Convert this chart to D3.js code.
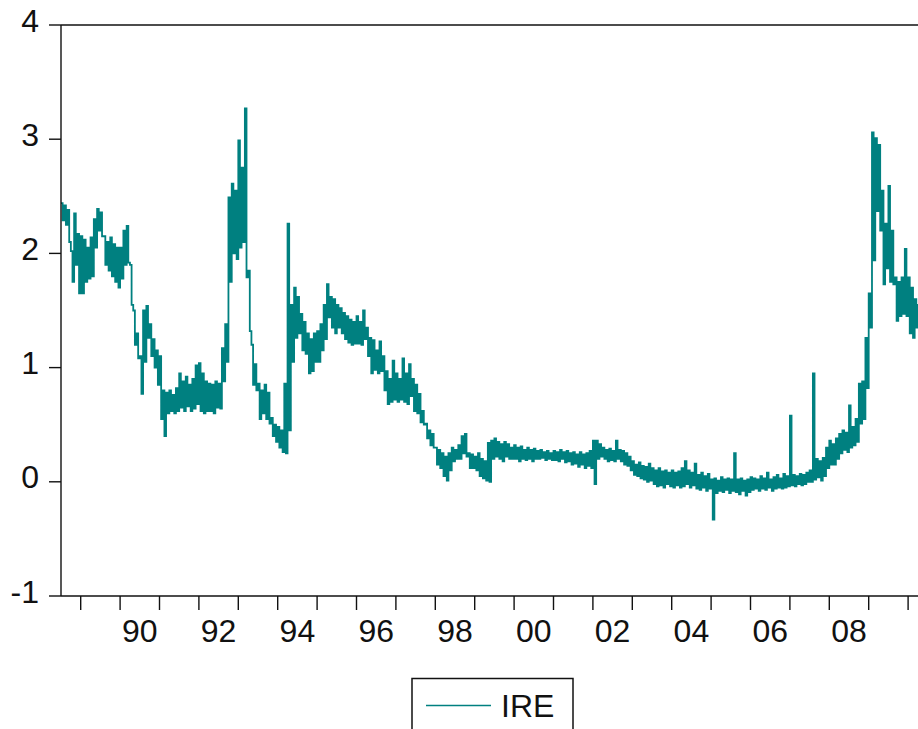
<!DOCTYPE html>
<html>
<head>
<meta charset="utf-8">
<script src="https://cdn.jsdelivr.net/npm/d3@7"></script>
<style>
  body { margin: 0; background: #fff; }
  svg { display: block; }
  text { font-family: "Liberation Sans", Arial, sans-serif; fill: #111; }
</style>
</head>
<body>
<svg id="chart"></svg>
<script>
var width = 918, height = 729;

// series IRE, two readings per month starting mid 1988
var seriesName = "IRE";
var startYear = 1988.5;
var perYear = 24;
var ire = [
  // 1988 H2
  2.44, 2.29, 2.42, 2.25, 2.38, 2.10, 2.02, 1.75, 2.35, 1.90, 2.17, 1.65,
  // 1989
  2.15, 1.65, 2.12, 1.75, 2.05, 1.78, 2.14, 1.80, 2.30, 2.05, 2.39, 2.20,
  2.36, 2.15, 2.15, 1.90, 2.10, 1.85, 2.14, 1.80, 2.08, 1.75, 2.05, 1.70,
  // 1990
  2.05, 1.78, 2.20, 1.90, 2.24, 1.92, 1.90, 1.55, 1.50, 1.20, 1.30, 1.08,
  1.10, 0.77, 1.50, 1.05, 1.54, 1.26, 1.38, 1.10, 1.25, 1.00, 1.15, 0.85,
  // 1991
  1.10, 0.55, 0.80, 0.40, 0.78, 0.60, 0.80, 0.62, 0.76, 0.60, 0.82, 0.62,
  0.95, 0.65, 0.88, 0.62, 0.92, 0.66, 0.85, 0.62, 0.90, 0.64, 1.02, 0.68,
  // 1992
  1.04, 0.62, 0.95, 0.60, 0.88, 0.62, 0.86, 0.62, 0.85, 0.60, 0.88, 0.65,
  0.86, 0.64, 1.17, 0.88, 1.38, 1.05, 2.49, 1.75, 2.61, 2.00, 2.55, 1.95,
  // 1993
  2.99, 2.05, 2.75, 2.10, 3.27, 1.79, 1.85, 1.32, 1.20, 0.85, 1.03, 0.80,
  0.86, 0.55, 0.80, 0.60, 0.85, 0.55, 0.78, 0.51, 0.56, 0.40, 0.50, 0.35,
  // 1994
  0.48, 0.30, 0.45, 0.26, 0.86, 0.25, 2.26, 0.45, 1.55, 1.05, 1.70, 1.26,
  1.62, 1.30, 1.47, 1.15, 1.40, 1.12, 1.30, 0.95, 1.25, 0.97, 1.30, 1.05,
  // 1995
  1.32, 1.05, 1.38, 1.15, 1.55, 1.25, 1.73, 1.44, 1.62, 1.35, 1.60, 1.30,
  1.55, 1.35, 1.52, 1.30, 1.48, 1.25, 1.45, 1.22, 1.42, 1.20, 1.40, 1.21,
  // 1996
  1.45, 1.21, 1.40, 1.20, 1.50, 1.25, 1.35, 1.10, 1.26, 0.95, 1.24, 0.98,
  1.15, 0.95, 1.23, 0.97, 1.10, 0.80, 0.97, 0.68, 0.90, 0.70, 1.06, 0.72,
  // 1997
  0.95, 0.70, 0.90, 0.72, 1.08, 0.70, 0.95, 0.68, 1.03, 0.75, 0.90, 0.62,
  0.85, 0.60, 0.77, 0.52, 0.62, 0.50, 0.51, 0.38, 0.45, 0.32, 0.42, 0.30,
  // 1998
  0.30, 0.15, 0.28, 0.12, 0.25, 0.05, 0.22, 0.01, 0.25, 0.10, 0.30, 0.18,
  0.28, 0.20, 0.32, 0.20, 0.40, 0.25, 0.42, 0.22, 0.25, 0.12, 0.24, 0.12,
  // 1999
  0.22, 0.10, 0.25, 0.05, 0.20, 0.03, 0.18, 0.01, 0.34, 0.00, 0.36, 0.20,
  0.38, 0.22, 0.35, 0.20, 0.33, 0.18, 0.35, 0.22, 0.33, 0.20, 0.30, 0.20,
  // 2000
  0.32, 0.20, 0.30, 0.18, 0.31, 0.20, 0.28, 0.19, 0.30, 0.20, 0.28, 0.18,
  0.29, 0.20, 0.27, 0.20, 0.28, 0.21, 0.26, 0.19, 0.27, 0.20, 0.25, 0.19,
  // 2001
  0.27, 0.19, 0.26, 0.18, 0.28, 0.20, 0.26, 0.17, 0.27, 0.18, 0.25, 0.15,
  0.26, 0.16, 0.24, 0.13, 0.26, 0.15, 0.24, 0.12, 0.25, 0.14, 0.27, 0.12,
  // 2002
  0.36, -0.02, 0.36, 0.20, 0.33, 0.22, 0.30, 0.20, 0.28, 0.18, 0.29, 0.19,
  0.27, 0.18, 0.36, 0.20, 0.28, 0.18, 0.27, 0.15, 0.25, 0.14, 0.22, 0.10,
  // 2003
  0.18, 0.06, 0.15, 0.05, 0.17, 0.03, 0.14, 0.02, 0.13, 0.00, 0.16, 0.01,
  0.12, -0.02, 0.10, -0.04, 0.12, -0.03, 0.09, -0.05, 0.10, -0.02, 0.08, -0.04,
  // 2004
  0.10, -0.05, 0.08, -0.03, 0.09, -0.05, 0.12, -0.04, 0.18, -0.02, 0.10, -0.05,
  0.08, -0.03, 0.16, -0.06, 0.06, -0.07, 0.08, -0.05, 0.05, -0.08, 0.07, -0.06,
  // 2005
  0.02, -0.33, 0.03, -0.10, 0.01, -0.08, 0.04, -0.09, 0.02, -0.07, 0.03, -0.10,
  0.02, -0.08, 0.25, -0.09, 0.02, -0.11, 0.03, -0.08, 0.01, -0.12, 0.02, -0.09,
  // 2006
  0.04, -0.07, 0.03, -0.06, 0.02, -0.08, 0.05, -0.06, 0.03, -0.07, 0.08, -0.05,
  0.02, -0.08, 0.04, -0.06, 0.06, -0.05, 0.03, -0.06, 0.07, -0.05, 0.05, -0.04,
  // 2007
  0.58, -0.03, 0.06, -0.04, 0.05, -0.02, 0.07, -0.03, 0.06, -0.02, 0.08, 0.00,
  0.10, 0.00, 0.95, 0.02, 0.20, 0.04, 0.18, 0.01, 0.21, 0.05, 0.30, 0.12,
  // 2008
  0.36, 0.15, 0.33, 0.15, 0.38, 0.20, 0.42, 0.25, 0.45, 0.28, 0.43, 0.26,
  0.67, 0.30, 0.48, 0.32, 0.55, 0.35, 0.86, 0.51, 0.88, 0.55, 1.26, 0.82,
  // 2009
  1.65, 1.35, 3.06, 1.94, 3.01, 2.37, 2.95, 2.20, 2.55, 1.73, 2.26, 1.87,
  2.59, 1.75, 2.20, 1.73, 1.79, 1.41, 1.75, 1.45, 1.79, 1.47, 2.04, 1.45,
  // 2010
  1.79, 1.30, 1.70, 1.26, 1.60, 1.35, 1.55, 1.28
];

var yTicks = [-1, 0, 1, 2, 3, 4];
var tickYears = [1989, 1990, 1991, 1992, 1993, 1994, 1995, 1996, 1997, 1998, 1999,
  2000, 2001, 2002, 2003, 2004, 2005, 2006, 2007, 2008, 2009, 2010];
var labelYears = [1990, 1992, 1994, 1996, 1998, 2000, 2002, 2004, 2006, 2008];
var labelText = ["90", "92", "94", "96", "98", "00", "02", "04", "06", "08"];

var lineColor = "#008080";

var svg = d3.select("svg#chart")
  .attr("width", width)
  .attr("height", height);

var plotLeft = 61, plotTop = 25, plotBottom = 596;

var x = d3.scaleLinear().domain([1988.5, 2010.5]).range([plotLeft, plotLeft + 22 * 39.4]);
var y = d3.scaleLinear().domain([-1, 4]).range([plotBottom, plotTop]);

var data = ire.map(function(v, i) {
  return { t: startYear + i / perYear, v: v };
});

// series line, stepped like a dense daily series
var line = d3.line()
  .curve(d3.curveStepAfter)
  .x(d => x(d.t))
  .y(d => y(d.v));

svg.append("path")
  .datum(data)
  .attr("d", line)
  .attr("fill", "none")
  .attr("stroke", lineColor)
  .attr("stroke-width", 1.8)
  .attr("stroke-linejoin", "miter");

// frame (right side is off screen)
var frame = svg.append("g").attr("stroke", "#111").attr("stroke-width", 1.4);
frame.append("line").attr("x1", plotLeft).attr("x2", width + 20).attr("y1", plotTop).attr("y2", plotTop);
frame.append("line").attr("x1", plotLeft).attr("x2", width + 20).attr("y1", plotBottom).attr("y2", plotBottom);
frame.append("line").attr("x1", plotLeft).attr("x2", plotLeft).attr("y1", plotTop).attr("y2", plotBottom);

// y axis ticks + labels
var yAxis = svg.append("g");
yAxis.selectAll("line")
  .data(yTicks)
  .enter().append("line")
  .attr("x1", plotLeft - 12).attr("x2", plotLeft)
  .attr("y1", d => y(d)).attr("y2", d => y(d))
  .attr("stroke", "#111").attr("stroke-width", 1.4);
yAxis.selectAll("text")
  .data(yTicks)
  .enter().append("text")
  .attr("x", 39)
  .attr("y", d => y(d) + 6.5)
  .attr("text-anchor", "end")
  .style("font-size", "32px")
  .text(d => d);

// x axis ticks + labels (labels centred in the year)
var xAxis = svg.append("g");
xAxis.selectAll("line")
  .data(tickYears)
  .enter().append("line")
  .attr("x1", d => x(d)).attr("x2", d => x(d))
  .attr("y1", plotBottom).attr("y2", plotBottom + 14)
  .attr("stroke", "#111").attr("stroke-width", 1.4);
xAxis.selectAll("text")
  .data(labelYears)
  .enter().append("text")
  .attr("x", d => x(d + 0.5))
  .attr("y", 641.5)
  .attr("text-anchor", "middle")
  .style("font-size", "32px")
  .text((d, i) => labelText[i]);

// legend
var legend = svg.append("g");
legend.append("rect")
  .attr("x", 412).attr("y", 678.5)
  .attr("width", 161).attr("height", 70)
  .attr("fill", "none").attr("stroke", "#111").attr("stroke-width", 1.5);
legend.append("line")
  .attr("x1", 426).attr("x2", 491)
  .attr("y1", 705.5).attr("y2", 705.5)
  .attr("stroke", lineColor).attr("stroke-width", 1.5);
legend.append("text")
  .attr("x", 501)
  .attr("y", 716.5)
  .style("font-size", "32px")
  .text(seriesName);
</script>
</body>
</html>
